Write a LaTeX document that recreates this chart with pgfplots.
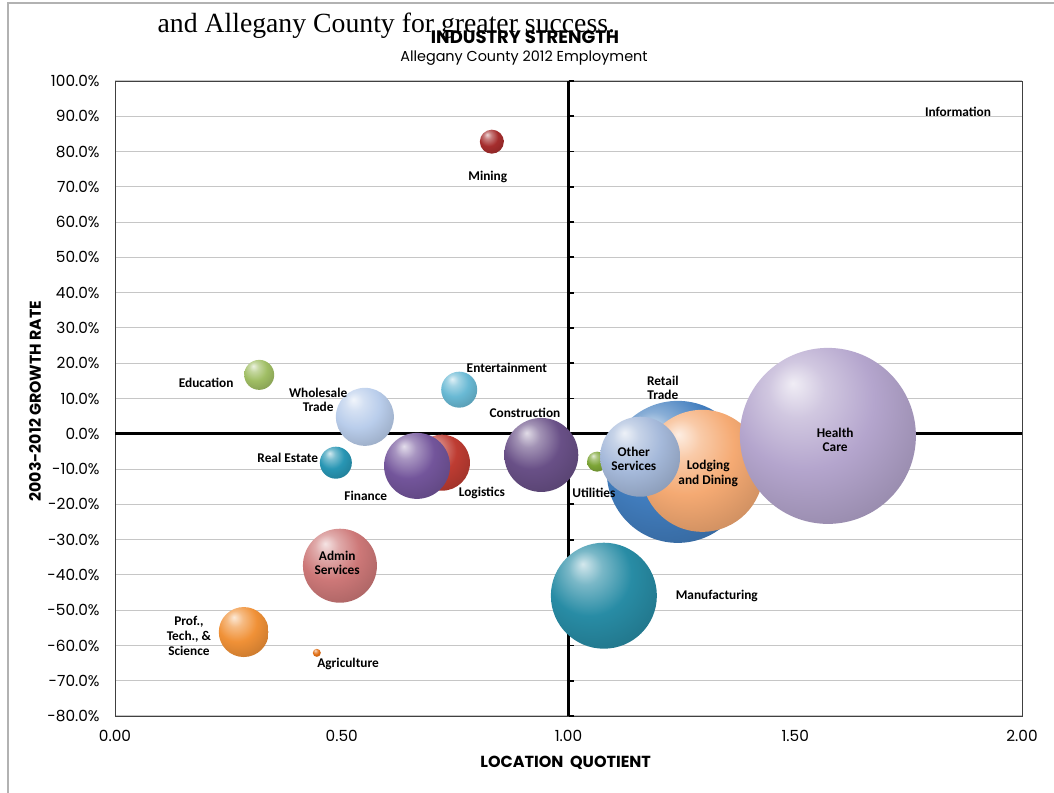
\documentclass[border=0pt]{standalone}
\usepackage{pgfplots}
\pgfplotsset{compat=1.18}
\usepackage{fontspec}
\setmainfont{Poppins}
\newfontfamily\lbl{Carlito}
\newfontfamily\serifx{Liberation Serif}
\definecolor{cMining}{RGB}{165,45,45}
\definecolor{cEdu}{RGB}{160,190,100}
\definecolor{cEnt}{RGB}{105,185,212}
\definecolor{cWhole}{RGB}{185,205,235}
\definecolor{cReal}{RGB}{40,150,180}
\definecolor{cLog}{RGB}{190,60,50}
\definecolor{cFin}{RGB}{115,85,155}
\definecolor{cCon}{RGB}{105,80,135}
\definecolor{cUtil}{RGB}{125,165,55}
\definecolor{cRet}{RGB}{65,125,190}
\definecolor{cLodg}{RGB}{245,170,115}
\definecolor{cOther}{RGB}{165,185,218}
\definecolor{cHealth}{RGB}{180,165,205}
\definecolor{cManu}{RGB}{40,140,165}
\definecolor{cAdmin}{RGB}{205,120,120}
\definecolor{cProf}{RGB}{240,145,55}
\definecolor{cAgri}{RGB}{225,110,20}
\colorlet{bubcol}{red}
\pgfdeclareradialshading[bubcol]{mybub}{\pgfpoint{-10bp}{15bp}}{%
  color(0bp)=(bubcol!20!white); color(8bp)=(bubcol!62!white);
  color(20bp)=(bubcol); color(34bp)=(bubcol!85!black); color(48bp)=(bubcol!62!black);
  color(66bp)=(bubcol!40!black)}
\newcommand{\mkbub}[1]{\pgfdeclareplotmark{bub#1}{\colorlet{bubcol}{#1}%
  \pgfpathcircle{\pgfpointorigin}{\pgfplotmarksize}\pgfshadepath{mybub}{0}\pgfusepath{discard}}}
\mkbub{cMining}\mkbub{cEdu}\mkbub{cEnt}\mkbub{cWhole}\mkbub{cReal}\mkbub{cLog}
\mkbub{cFin}\mkbub{cCon}\mkbub{cUtil}\mkbub{cRet}\mkbub{cLodg}\mkbub{cOther}
\mkbub{cHealth}\mkbub{cManu}\mkbub{cAdmin}\mkbub{cProf}\mkbub{cAgri}
\newcommand{\bub}[4]{\addplot[only marks, mark=bub#4, mark size=#3] coordinates {(#1,#2)};}
\newcommand{\lab}[3]{\node[font=\lbl\bfseries\fontsize{10}{11}\selectfont, align=center, inner sep=0pt] at (axis cs:#1,#2) {#3};}
\pgfplotsset{common/.style={at={(0,0)}, anchor=south west, scale only axis,
  width=680.25pt, height=476.25pt, xmin=0, xmax=2, ymin=-80, ymax=100, clip=false}}
\begin{document}
\begin{tikzpicture}
\useasboundingbox (-86.25pt,-57.75pt) rectangle (704.25pt,537pt);
\draw[gray!60, line width=0.8pt] (-80.25pt,-57.75pt) -- (-80.25pt,534.75pt) -- (704.25pt,534.75pt);
\node[font=\serifx\fontsize{20.8}{21}\selectfont, anchor=base] at (203.5pt,512.5pt) {and Allegany County for greater success.};
\node[font=\bfseries\fontsize{13.5}{14}\selectfont] at (307.5pt,509.25pt) {INDUSTRY STRENGTH};
\node[font=\fontsize{10.8}{12}\selectfont] at (306.75pt,493.5pt) {Allegany County 2012 Employment};
\node[font=\bfseries\fontsize{12}{13}\selectfont] at (338pt,-35.25pt) {LOCATION\ \ QUOTIENT};
\node[font=\bfseries\fontsize{11.8}{13}\selectfont, rotate=90] at (-60pt,236.25pt) {2003-2012 GROWTH RATE};
\begin{axis}[common,
  xtick={0,0.5,1,1.5,2},
  ytick={-80,-70,-60,-50,-40,-30,-20,-10,0,10,20,30,40,50,60,70,80,90,100},
  ymajorgrids, grid style={gray!45, line width=0.8pt},
  major tick length=0pt,
  axis line style={black!75, line width=0.6pt},
  /pgf/number format/assume math mode=true,
  xticklabel={\pgfmathprintnumber[fixed,fixed zerofill,precision=2]{\tick}},
  yticklabel={\pgfmathsetmacro\tv{\tick}\pgfmathsetmacro\ta{abs(\tick)}\ifdim\tv pt<0pt -\fi\pgfmathprintnumber[fixed,fixed zerofill,precision=1]{\ta}\%},
  ticklabel style={font=\fontsize{11.5}{12}\selectfont},
  yticklabel style={xshift=-8pt},
  xticklabel style={yshift=-7pt},
]
\draw[black, line width=2.2pt] (axis cs:1,-80) -- (axis cs:1,100);
\draw[black, line width=2.2pt] (axis cs:0,0) -- (axis cs:2,0);
\pgfplotsinvokeforeach{-80,-70,-60,-50,-40,-30,-20,-10,10,20,30,40,50,60,70,80,90,100}{
  \draw[black, line width=1.4pt] (axis cs:1,#1) -- ([xshift=4pt]axis cs:1,#1);
}
\bub{0.831}{82.8}{9}{cMining}
\bub{0.318}{16.7}{11.25}{cEdu}
\bub{0.759}{12.5}{13.5}{cEnt}
\bub{0.551}{4.8}{21.75}{cWhole}
\bub{0.487}{-8.2}{12}{cReal}
\bub{0.721}{-8.2}{21}{cLog}
\bub{0.666}{-9.1}{24.75}{cFin}
\bub{0.940}{-6.0}{27.75}{cCon}
\bub{1.063}{-7.9}{7.5}{cUtil}
\bub{1.241}{-10.8}{53.25}{cRet}
\bub{1.295}{-10.5}{45.75}{cLodg}
\bub{1.158}{-6.5}{30}{cOther}
\bub{1.572}{-0.6}{66}{cHealth}
\bub{1.078}{-45.9}{39.75}{cManu}
\bub{0.496}{-37.4}{27.75}{cAdmin}
\bub{0.284}{-56.2}{18.75}{cProf}
\bub{0.445}{-62.1}{3}{cAgri}
\end{axis}
\begin{axis}[common, hide axis]
\lab{0.822}{72.8}{Mining}
\lab{0.201}{14.5}{Education}
\lab{0.864}{18.7}{Entertainment}
\lab{0.448}{9.6}{Wholesale\\Trade}
\lab{0.904}{6.0}{Construction}
\lab{1.208}{13.0}{Retail\\Trade}
\lab{0.381}{-6.8}{Real Estate}
\lab{0.553}{-17.6}{Finance}
\lab{0.809}{-16.7}{Logistics}
\lab{1.056}{-16.7}{Utilities}
\lab{1.144}{-7.1}{Other\\Services}
\lab{1.308}{-11.3}{Lodging\\and Dining}
\lab{1.588}{-1.7}{Health\\Care}
\lab{1.327}{-45.9}{Manufacturing}
\lab{0.490}{-36.6}{Admin\\Services}
\lab{0.163}{-57.3}{Prof.,\\Tech., \&\\Science}
\lab{0.514}{-65.2}{Agriculture}
\lab{1.859}{91.3}{Information}
\end{axis}
\end{tikzpicture}
\end{document}
